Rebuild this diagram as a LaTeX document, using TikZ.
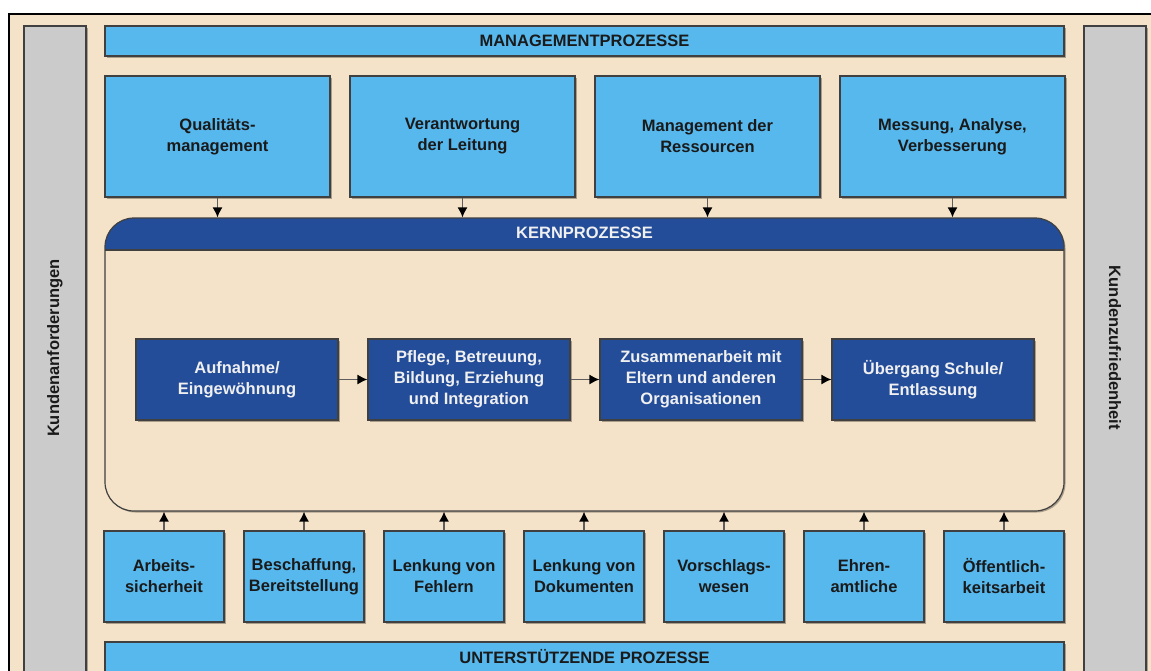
\documentclass[tikz,border=0pt]{standalone}
\usepackage{fontspec}
\setmainfont{Liberation Sans}
\usetikzlibrary{arrows.meta,shadows}
\definecolor{bg}{HTML}{F4E3C8}
\definecolor{lblue}{HTML}{57B8EE}
\definecolor{dblue}{HTML}{234C99}
\definecolor{bargray}{HTML}{CBCBCB}
\definecolor{edge}{HTML}{404040}
\definecolor{txt}{HTML}{1A1A1A}
\tikzset{
  lbl/.style={font=\bfseries\fontsize{16.5}{21}\selectfont, align=center, inner sep=0pt},
  shade/.style={drop shadow={shadow xshift=1.5pt, shadow yshift=-1.5pt, opacity=0.3, fill=black}},
  box/.style={lbl, draw=edge, line width=1.2pt, fill=lblue, text=txt, shade},
  kbox/.style={box, fill=dblue, text=white!94!black, minimum width=202pt, minimum height=81pt},
  sidebar/.style={draw=edge, line width=1.2pt, fill=bargray, minimum width=62pt, minimum height=680pt, shade},
  arr/.style={draw=edge!85!white, line width=1.3pt, -{Latex[length=10pt,width=10pt,fill=black,color=black]}}
}
\begin{document}
\begin{tikzpicture}[x=1pt,y=-1pt]
    \useasboundingbox (0,0) rectangle (1151,670);
    \clip (0,0) rectangle (1151,670);
    \fill[white] (0,0) rectangle (1151,670);
    \draw[fill=bg, line width=1.5pt] (9,14) rectangle (1180,700);
    % customer side bars
    \node[sidebar] (links) at (55,366) {};
    \node[sidebar] (rechts) at (1115,366) {};
    \node[lbl, rotate=90, text=txt] (anf) at (55,348) {Kundenanforderungen};
    \node[lbl, rotate=-90, text=txt] (zuf) at (1115,348) {Kundenzufriedenheit};
    % management
    \node[box, minimum width=959pt, minimum height=30pt] (mgmt) at (584.5,41) {MANAGEMENTPROZESSE};
    \foreach \i/\txt in {1/{Qualitäts-\\management}, 2/{Verantwortung\\der Leitung},
                         3/{Management der\\Ressourcen}, 4/{Messung, Analyse,\\Verbesserung}}
        {\node[box, minimum width=225pt, minimum height=121pt] (m\i) at ({217.5+245*(\i-1)},136.5) {\txt};}
    % core processes
    \node[draw=edge, line width=1.2pt, fill=bg, rounded corners=29pt, shade,
          minimum width=959pt, minimum height=293pt,
          path picture={
            \fill[dblue, sharp corners] (path picture bounding box.north west) rectangle ([yshift=-32pt]path picture bounding box.north east);
            \draw[edge, line width=1.2pt, sharp corners] ([yshift=-32pt]path picture bounding box.north west) -- ([yshift=-32pt]path picture bounding box.north east);
          }] (kern) at (584.5,364.5) {};
    \node[lbl, text=white!94!black] (kernlabel) at (584.5,233) {KERNPROZESSE};
    \foreach \i in {1,...,4}
        {\draw[arr] (m\i.south) -- (m\i.south |- kern.north);}
    \node[kbox] (k1) at (237,379.5) {Aufnahme/\\Eingewöhnung};
    \node[kbox] (k2) at (469,379.5) {Pflege, Betreuung,\\Bildung, Erziehung\\und Integration};
    \node[kbox] (k3) at (701,379.5) {Zusammenarbeit mit\\Eltern und anderen\\Organisationen};
    \node[kbox] (k4) at (933,379.5) {Übergang Schule/\\Entlassung};
    \foreach \a/\b in {1/2,2/3,3/4}
        {\draw[arr] (k\a) -- (k\b);}
    % support
    \foreach \i/\txt in {1/{Arbeits-\\sicherheit}, 2/{Beschaffung,\\Bereitstellung}, 3/{Lenkung von\\Fehlern},
                         4/{Lenkung von\\Dokumenten}, 5/{Vorschlags-\\wesen}, 6/{Ehren-\\amtliche}, 7/{Öffentlich-\\keitsarbeit}}
        {\node[box, minimum width=120pt, minimum height=91pt] (u\i) at ({164+140*(\i-1)},576.5) {\txt};
         \draw[arr] (u\i.north) -- (u\i.north |- kern.south);}
    \node[box, minimum width=959pt, minimum height=30pt] (unterst) at (584.5,657) {UNTERSTÜTZENDE PROZESSE};
\end{tikzpicture}
\end{document}
